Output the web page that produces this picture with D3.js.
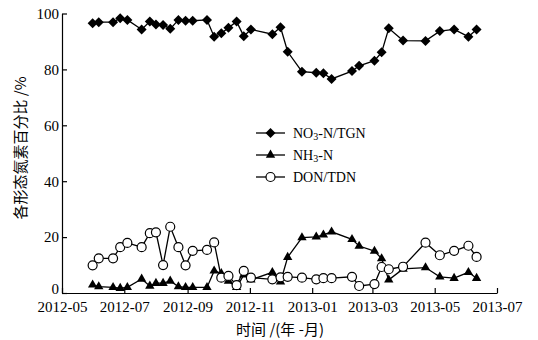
<!DOCTYPE html>
<html>
<head>
<meta charset="utf-8">
<script src="https://cdn.jsdelivr.net/npm/d3@7/dist/d3.min.js"></script>
<style>
  html, body { margin: 0; padding: 0; background: #fff; }
  svg { display: block; }
  .tick text { font-family: "Liberation Serif", "DejaVu Serif", serif; font-size: 15px; fill: #000; }
</style>
</head>
<body>
<svg id="chart" width="538" height="340"></svg>
<script>
// Sampling dates
const sampleDates = [
  "2012-05-31", "2012-06-06", "2012-06-20", "2012-06-27", "2012-07-04", "2012-07-18",
  "2012-07-26", "2012-08-01", "2012-08-08", "2012-08-15", "2012-08-23", "2012-08-30",
  "2012-09-06", "2012-09-20", "2012-09-27", "2012-10-04", "2012-10-11", "2012-10-19",
  "2012-10-26", "2012-11-02", "2012-11-23", "2012-12-01", "2012-12-08", "2012-12-22",
  "2013-01-05", "2013-01-12", "2013-01-20", "2013-02-09", "2013-02-16", "2013-03-03",
  "2013-03-10", "2013-03-17", "2013-03-31", "2013-04-22", "2013-05-06", "2013-05-20",
  "2013-06-03", "2013-06-11"
];

// NO3-N / TGN (%)
const no3Values = [
  96.5, 96.9, 96.9, 98.3, 97.7, 94.3, 97.1, 96.1, 95.9, 94.5, 97.7, 97.4,
  97.4, 97.7, 91.7, 92.9, 94.9, 97.1, 91.9, 94.3, 92.6, 95.1, 86.3, 79.2,
  78.8, 78.6, 76.6, 79.4, 81.3, 83.1, 86.1, 94.7, 90.3, 90.2, 93.7, 94.3,
  91.7, 94.3
];

// NH3-N (%)
const nh3Values = [
  2.9, 2.3, 2.0, 1.7, 2.0, 5.0, 2.5, 3.5, 3.5, 4.3, 2.3, 2.0,
  2.0, 2.0, 7.9, 7.0, 4.3, 2.0, 6.5, 4.7, 7.4, 4.0, 12.8, 19.8,
  20.1, 20.8, 21.9, 19.2, 16.8, 15.0, 12.3, 4.7, 8.6, 9.1, 5.8, 5.3,
  7.4, 5.3
];

// DON / TDN (%)
const donValues = [
  9.9, 12.4, 12.4, 16.4, 17.9, 16.4, 21.4, 21.7, 10.0, 23.7, 16.4, 9.9,
  15.1, 15.4, 18.1, 5.5, 6.1, 2.8, 7.9, 5.5, 4.9, 5.6, 5.8, 5.5,
  4.9, 5.3, 5.3, 5.8, 2.5, 3.2, 9.3, 8.5, 9.4, 18.0, 13.5, 15.1,
  16.9, 12.9
];

const xTickLabels = ["2012-05", "2012-07", "2012-09", "2012-11", "2013-01", "2013-03", "2013-05", "2013-07"];
const yTickValues = [0, 20, 40, 60, 80, 100];

const parseDay = d3.timeParse("%Y-%m-%d");
const parseMonth = d3.timeParse("%Y-%m");
const fmtMonth = d3.timeFormat("%Y-%m");

const svg = d3.select("#chart");
const plot = { left: 62, right: 497, top: 13.5, bottom: 293 };

const x = d3.scaleTime()
  .domain([parseMonth(xTickLabels[0]), parseMonth(xTickLabels[xTickLabels.length - 1])])
  .range([plot.left, plot.right]);
const y = d3.scaleLinear().domain([0, 100]).range([plot.bottom, plot.top]);

const dates = sampleDates.map(parseDay);

// Axes (ticks point inward)
const xAxis = d3.axisBottom(x)
  .tickValues(xTickLabels.map(parseMonth))
  .tickFormat(fmtMonth)
  .tickSizeInner(-5).tickSizeOuter(0).tickPadding(8);
const gx = svg.append("g").attr("transform", `translate(0,${plot.bottom})`).call(xAxis);

const yAxis = d3.axisLeft(y)
  .tickValues(yTickValues)
  .tickSizeInner(-5).tickSizeOuter(0).tickPadding(3);
const gy = svg.append("g").attr("transform", `translate(${plot.left},0)`).call(yAxis);

// lift the zero label a little so it clears the date labels
gy.selectAll(".tick").filter(d => d === 0).select("text").attr("y", -4);

[gx, gy].forEach(g => {
  g.select(".domain").attr("stroke", "#000").attr("stroke-width", 1.2);
  g.selectAll(".tick line").attr("stroke", "#000").attr("stroke-width", 1.2);
});

// Axis titles
svg.append("text")
  .attr("transform", "translate(19,148) rotate(-90)")
  .attr("text-anchor", "middle")
  .attr("dominant-baseline", "central")
  .style("font-family", "'Noto Sans CJK SC', sans-serif")
  .style("font-size", "15px")
  .text("各形态氮素百分比 /%");

svg.append("text")
  .attr("x", 280).attr("y", 328)
  .attr("text-anchor", "middle")
  .attr("dominant-baseline", "central")
  .style("font-family", "'Noto Sans CJK SC', sans-serif")
  .style("font-size", "15px")
  .text("时间 /(年 -月)");

// Marker drawing helpers
const diamond = d3.symbol().type(d3.symbolSquare).size(50);
const triangle = d3.symbol().type(d3.symbolTriangle).size(38);

function drawMarker(g, kind, cx, cy) {
  if (kind === "diamond") {
    g.append("path").attr("d", diamond())
      .attr("transform", `translate(${cx},${cy}) rotate(45)`)
      .attr("fill", "#000");
  } else if (kind === "triangle") {
    g.append("path").attr("d", triangle())
      .attr("transform", `translate(${cx},${cy})`)
      .attr("fill", "#000");
  } else {
    g.append("circle").attr("cx", cx).attr("cy", cy).attr("r", 4.5)
      .attr("fill", "#fff").attr("stroke", "#000").attr("stroke-width", 1.2);
  }
}

const series = [
  { name: "NO3", values: no3Values, marker: "diamond" },
  { name: "NH3", values: nh3Values, marker: "triangle" },
  { name: "DON", values: donValues, marker: "circle" }
];

const line = d3.line().x(d => x(d.date)).y(d => y(d.value));

series.forEach(s => {
  const pts = dates.map((d, i) => ({ date: d, value: s.values[i] }));
  const g = svg.append("g");
  g.append("path").datum(pts)
    .attr("d", line)
    .attr("fill", "none")
    .attr("stroke", "#000")
    .attr("stroke-width", 1.3);
  pts.forEach(p => drawMarker(g, s.marker, x(p.date), y(p.value)));
});

// Legend
const legendRows = [
  { marker: "diamond", main: "NO", sub: "3", rest: "-N/TGN" },
  { marker: "triangle", main: "NH", sub: "3", rest: "-N" },
  { marker: "circle", main: "DON/TDN", sub: "", rest: "" }
];
const legend = svg.append("g");
legendRows.forEach((r, i) => {
  const ly = 133 + i * 22;
  legend.append("line").attr("x1", 256).attr("x2", 285).attr("y1", ly).attr("y2", ly)
    .attr("stroke", "#000").attr("stroke-width", 1.3);
  drawMarker(legend, r.marker, 270.5, ly);
  const t = legend.append("text")
    .attr("x", 293).attr("y", ly)
    .attr("dominant-baseline", "central")
    .style("font-family", "'Liberation Serif', serif")
    .style("font-size", "14px");
  t.append("tspan").text(r.main);
  if (r.sub) {
    t.append("tspan").attr("font-size", "10px").attr("dy", 3).text(r.sub);
    t.append("tspan").attr("dy", -3).text(r.rest);
  }
});
</script>
</body>
</html>
